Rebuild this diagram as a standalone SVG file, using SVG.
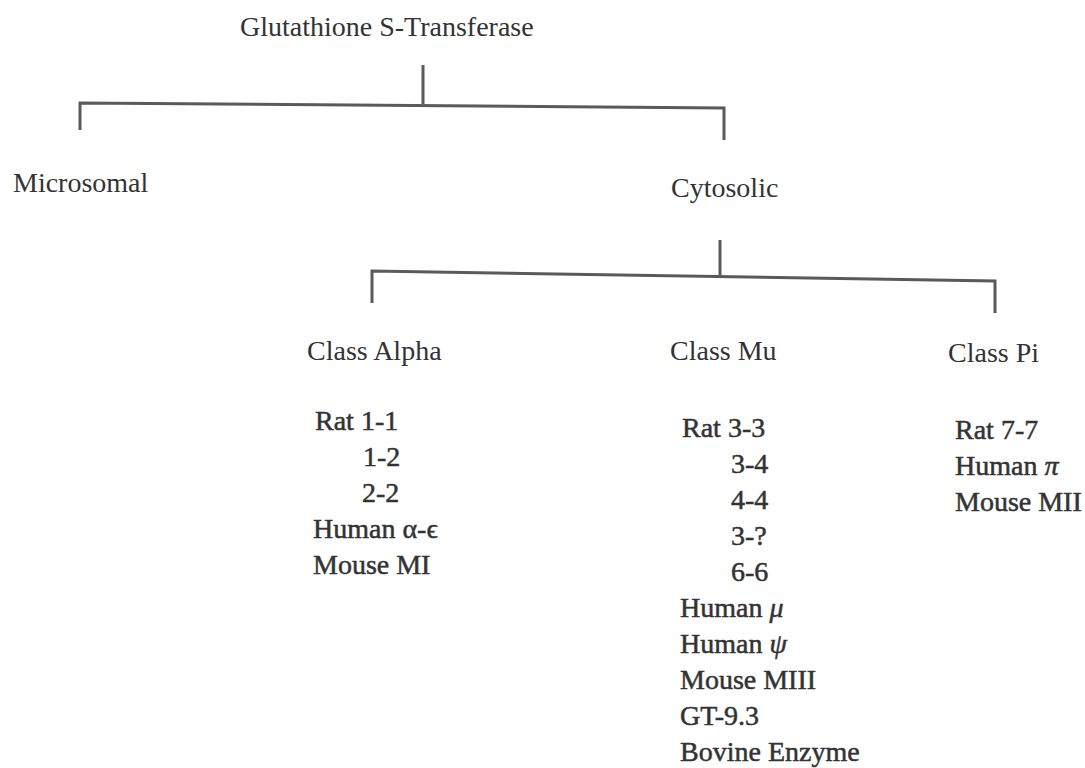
<svg xmlns="http://www.w3.org/2000/svg" width="1085" height="768" viewBox="0 0 1085 768">
<style>
text{font-family:"Liberation Serif","Times New Roman",serif;fill:#333333;font-size:28px}
.l{stroke:#333333;stroke-width:0.5}
.ln{fill:none;stroke:#5a5a5a;stroke-width:3}
</style>
<rect width="1085" height="768" fill="#ffffff"/>
<g id="connectors">
<path class="ln" d="M423,65 V104 M80,130 V103 L724,108 V140"/>
<path class="ln" d="M720,240 V276 M372,303 V271 L995,281 V313"/>
</g>
<g id="root"><text x="240" y="36">Glutathione S-Transferase</text></g>
<g id="microsomal"><text x="13" y="192">Microsomal</text></g>
<g id="cytosolic"><text x="671" y="197">Cytosolic</text></g>
<g id="alpha">
<text x="307" y="360">Class Alpha</text>
<text class="l" x="315" y="430">Rat 1-1</text>
<text class="l" x="363" y="466">1-2</text>
<text class="l" x="362" y="502">2-2</text>
<text class="l" x="313" y="538">Human α-ϵ</text>
<text class="l" x="313" y="574">Mouse MI</text>
</g>
<g id="mu">
<text x="670" y="360">Class Mu</text>
<text class="l" x="682" y="437">Rat 3-3</text>
<text class="l" x="731" y="473">3-4</text>
<text class="l" x="731" y="509">4-4</text>
<text class="l" x="731" y="545">3-?</text>
<text class="l" x="731" y="581">6-6</text>
<text class="l" x="680" y="617">Human <tspan font-style="italic">μ</tspan></text>
<text class="l" x="680" y="653">Human <tspan font-style="italic">ψ</tspan></text>
<text class="l" x="680" y="689">Mouse MIII</text>
<text class="l" x="680" y="725">GT-9.3</text>
<text class="l" x="680" y="761">Bovine Enzyme</text>
</g>
<g id="pi">
<text x="948" y="362">Class Pi</text>
<text class="l" x="955" y="439">Rat 7-7</text>
<text class="l" x="955" y="475">Human <tspan font-style="italic">π</tspan></text>
<text class="l" x="955" y="511">Mouse MII</text>
</g>
</svg>
